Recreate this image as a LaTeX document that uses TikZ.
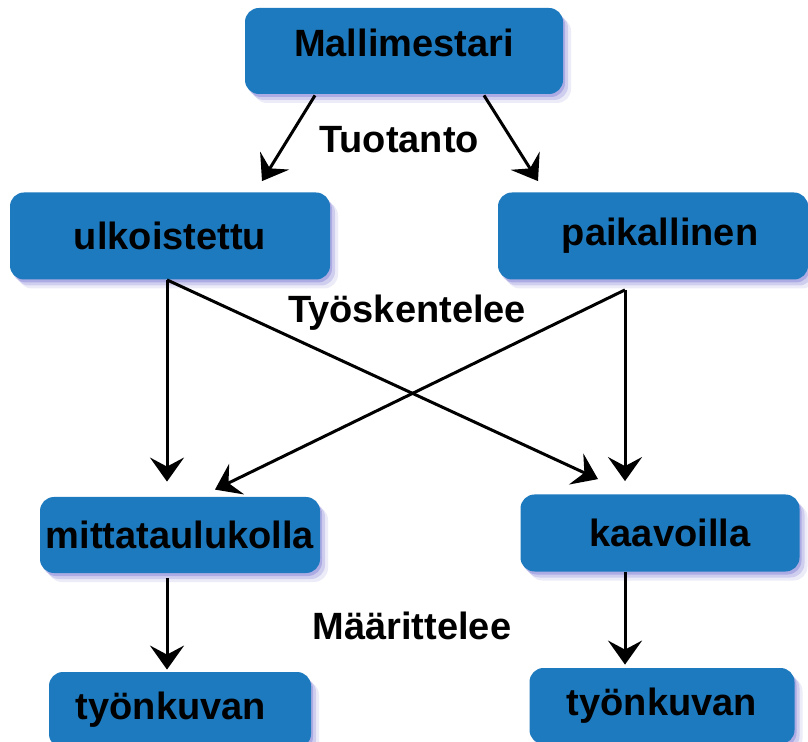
\documentclass[tikz,border=0pt]{standalone}
\usepackage{fontspec}
\setmainfont{Liberation Sans}
\usetikzlibrary{shapes,arrows.meta,positioning,shadows,calc}
\definecolor{boxblue}{RGB}{29,122,190}
\definecolor{shade}{RGB}{95,90,200}

\begin{document}
\begin{tikzpicture}[x=0.5pt,y=-0.5pt,
  box/.style={rectangle, rounded corners=7pt, fill=boxblue, inner sep=0pt,
    font=\fontsize{19}{21}\selectfont\bfseries,
    drop shadow={shadow xshift=1pt, shadow yshift=-1.5pt, fill=shade, opacity=0.3},
    drop shadow={shadow xshift=2.5pt, shadow yshift=-3pt, fill=shade, opacity=0.2},
    drop shadow={shadow xshift=4pt, shadow yshift=-4.5pt, fill=shade, opacity=0.12}},
  lbl/.style={font=\fontsize{19}{21}\selectfont\bfseries},
  arr/.style={line width=1.5pt, -{Stealth[length=12pt,width=17pt,inset=4.5pt]}}]
\useasboundingbox (0,0) rectangle (808,742);

% Laatikot
\node[box, minimum width=159pt, minimum height=43pt, text depth=8pt] (mal) at (404,51) {Mallimestari};
\node[box, minimum width=160pt, minimum height=43.5pt] (ulk) at (170,236) {ulkoistettu};
\node[box, minimum width=155pt, minimum height=43.5pt] (paik) at (653,236) {\hspace*{7pt}paikallinen};
\node[box, minimum width=140pt, minimum height=38pt] (mitt) at (180,535) {mittataulukolla};
\node[box, minimum width=139.5pt, minimum height=38.5pt] (kaav) at (660,533) {\hspace*{10pt}kaavoilla};
\node[box, minimum width=131pt, minimum height=38pt] (tyo1) at (180,710) {työnkuvan\hspace*{9pt}};
\node[box, minimum width=132.5pt, minimum height=38pt] (tyo2) at (662,706) {työnkuvan};

% Tekstit
\node[lbl] (tuot) at (399,140) {Tuotanto};
\node[lbl] (tyos) at (407,313) {Työskentelee};
\node[lbl] (maar) at (412,626) {Määrittelee};

% Nuolet
\draw[arr] ($(mal.south)+(-89,1)$) -- ($(ulk.north)+(92,-11)$);
\draw[arr] ($(mal.south)+(80,1)$) -- ($(paik.north)+(-115,-11)$);
\draw[arr] ($(ulk.south)+(-3,0)$) -- ($(mitt.north)+(-13,-15)$);
\draw[arr] ($(ulk.south)+(-3,0)$) -- ($(kaav.north)+(-62,-15)$);
\draw[arr] ($(paik.south)+(-28,10)$) -- ($(kaav.north)+(-35,-13)$);
\draw[arr] ($(paik.south)+(-28,10)$) -- ($(mitt.north)+(35,-7)$);
\draw[arr] ($(mitt.south)+(-13,5)$) -- ($(tyo1.north)+(-13,-2)$);
\draw[arr] ($(kaav.south)+(-35,0)$) -- ($(tyo2.north)+(-37,-3)$);
\end{tikzpicture}
\end{document}
